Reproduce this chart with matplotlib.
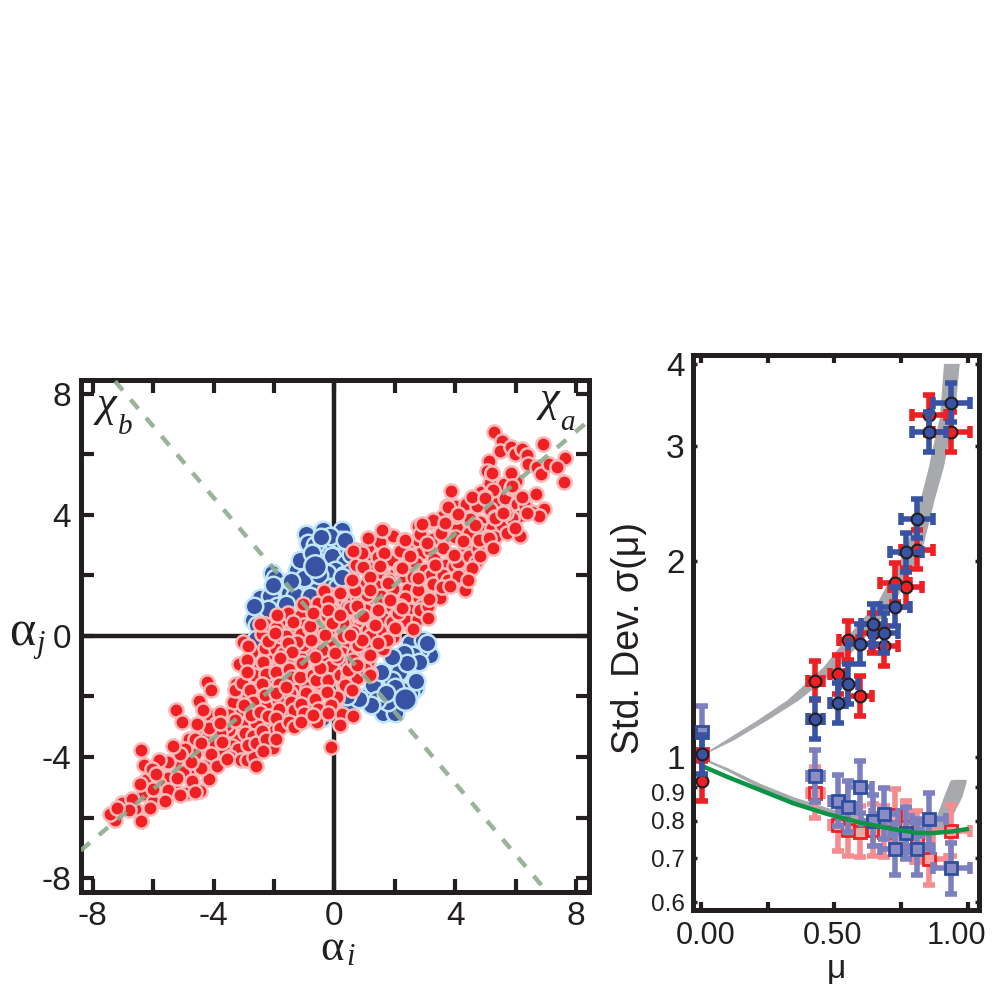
import matplotlib
matplotlib.use('Agg')
import matplotlib.pyplot as plt
from matplotlib.transforms import ScaledTranslation

plt.rcParams['font.family'] = ['Liberation Sans', 'DejaVu Sans']
plt.rcParams['axes.unicode_minus'] = False

# left panel: values, grouped by region
red_upper_tail = [(5.28,6.74),(5.54,6.42),(5.47,6.12),(5.85,6.25),(5.99,5.99),(6.19,6.17),(6.36,5.96),(6.90,6.34),
    (7.62,5.88),(7.59,5.09),(6.42,5.68),(6.70,5.59),(6.84,5.34),(7.10,5.68),(7.37,5.59),(5.11,5.79),(5.05,5.45),
    (5.22,5.37),(5.83,5.37),(3.85,4.77),(5.26,4.82),(5.85,4.88),(4.99,4.57),(6.19,4.60),(6.68,4.68),(4.71,4.28),
    (3.74,4.28),(4.54,4.60),(4.48,3.85),(6.93,4.20),(6.53,4.10),(6.76,3.97),(5.88,3.89),(5.68,4.05),(5.31,3.91),
    (4.65,3.66),(5.05,3.25),(4.77,3.17),(5.22,2.94),(6.13,3.31),(5.96,3.55),(4.03,3.97),(3.51,3.40),(2.77,3.63),
    (2.83,3.36),(3.06,3.06),(3.97,2.68),(3.34,2.34),(4.08,1.97),(3.55,1.60),(2.81,1.54),(3.14,1.23),(3.11,0.60),
    (2.60,0.24),(2.23,0.92),(5.20,5.39),(5.87,4.94),(4.98,4.56),(3.77,4.26),(4.10,4.01),(5.32,3.90),(2.33,3.18),
    (2.50,2.65),(5.10,3.23),(4.54,2.24),(2.22,2.24),(2.78,1.52),(4.32,1.52),(4.82,2.63),(5.26,2.90),(3.83,1.63),
    (4.43,1.85),(2.78,1.91),(3.27,3.84),(3.66,3.73),(4.27,3.12),(6.37,4.06),(5.59,4.06),(2.89,3.68)]
red_upper_fill = [(3.2,3.75),(3.25,3.2),(3.15,2.85),(3.3,2.55),(3.2,2.0),(3.25,1.7),(3.1,1.0),
    (3.6,3.95),(3.65,3.2),(3.6,2.9),(3.7,2.35),(3.6,2.0),(3.75,1.85),(3.5,1.25),
    (4.0,4.3),(4.05,3.55),(4.0,3.25),(3.95,2.3),(4.1,2.45),(4.0,1.7),
    (4.35,4.35),(4.45,3.4),(4.35,2.95),(4.45,2.65),(4.3,2.0),
    (4.85,4.75),(4.8,3.75),(4.9,3.45),(4.75,2.9),(4.7,2.45),
    (5.15,5.05),(5.3,4.45),(5.15,4.2),(5.2,3.55),(5.3,3.25),
    (5.6,5.0),(5.65,4.55),(5.55,3.65),(5.7,3.4),(6.0,5.1),(6.05,4.35),(6.1,3.95),(6.3,4.3)]
red_middle = [(1.60,3.51),(1.12,3.23),(1.63,2.74),(2.49,2.66),(2.18,2.81),(2.31,3.15),(0.72,2.83),(0.95,2.26),
    (1.17,1.94),(2.20,2.23),(1.80,1.84),(-0.36,1.49),(0.18,1.43),(-1.05,1.06),(-1.90,0.70),(-2.47,0.38),(-2.21,-0.17),
    (0.38,0.43),(1.31,0.38),(2.03,0.26),(1.74,-0.14),(0.78,-0.31),(-1.36,0.47),(-0.81,0.25),(-1.03,-0.30),(-0.76,-0.13),
    (-1.69,-0.57),(-0.42,-0.46),(-0.15,0.53),(-0.26,0.75),(-1.25,-0.19),(-0.81,0.31),(-1.97,0.09),(-1.53,-0.24),
    (-1.42,-0.52),(-0.26,0.64),(-0.20,0.14),(0.13,0.58),(0.51,0.92),(0.76,1.30),(1.07,1.36),(1.78,1.74),(1.29,0.42),
    (1.73,-0.13),(1.18,-0.63),(0.46,-1.13),(0.07,-0.69),(-0.48,-1.07),(-0.65,-0.69),(1.18,-0.02),(0.29,-0.02),
    (0.85,0.64),(1.45,0.86),(2.11,0.75),(0.68,1.52),(-0.20,1.14),(-0.70,0.75),(-1.09,-0.91),(-1.80,-0.74),(0.62,-0.80),
    (1.18,-1.29),(1.58,3.51),(2.34,3.16),(3.05,3.05),(2.83,3.40),(3.55,3.40),(0.90,2.74),(2.17,2.79),(0.62,2.79),
    (2.98,2.18),(2.17,2.24),(0.57,1.85),(3.49,1.58),(1.18,1.52),(3.16,1.25),(2.17,0.97),(1.84,1.19),(2.83,0.86),
    (2.61,0.22),(2.00,0.25),(1.34,0.36),(0.29,0.42),(0.73,0.97),(-0.20,0.86),(-0.09,0.42),(0.62,0.14),(0.90,-0.13),
    (-0.31,0.03),(1.51,2.30),(2.61,1.96),(0.18,0.70),(0.96,0.64),(1.45,-0.24),(0.51,0.03),(0.02,-0.57),(0.73,-0.96),
    (0.35,-1.62),(0.57,-1.79)]
red_middle_fill = [(-2.85,-0.35),(-2.9,-0.8),(-2.65,-1.3),(-2.9,-1.2),(-2.8,-1.8),(-2.7,-2.2),(-3.0,-2.3),(-2.75,-2.6),
    (-2.95,-3.2),(-2.7,-3.3),(-2.85,-3.6),(-2.6,-3.55),(-2.4,0.05),(-2.3,0.4),(-2.3,-0.4),(-2.35,-0.85),(-2.25,-1.25),
    (-2.4,-1.6),(-2.3,-1.95),(-2.45,-2.5),(-2.2,-2.65),(-2.4,-3.15),(-2.25,-3.4),(-2.35,-3.8),
    (-1.85,0.45),(-1.95,0.25),(-1.85,-0.2),(-1.95,-0.45),(-1.85,-0.95),(-1.95,-1.2),(-1.85,-1.6),(-1.95,-1.9),
    (-1.85,-2.4),(-1.95,-2.7),(-1.8,-3.05),(-1.95,-3.4),(-1.55,0.75),(-1.45,0.2),(-1.6,0.0),(-1.4,-0.35),(-1.55,-0.7),
    (-1.5,-1.1),(-1.4,-1.35),(-1.6,-1.7),(-1.45,-2.2),(-1.35,-2.45),(-1.5,-2.85),(-1.35,-3.0),
    (-1.1,0.7),(-1.0,0.35),(-1.1,0.05),(-0.95,-0.55),(-1.15,-0.7),(-1.0,-1.2),(-1.15,-1.35),(-0.95,-1.9),(-1.1,-2.25),
    (-1.0,-2.55),(-1.1,-2.85),(-0.55,1.1),(-0.65,0.55),(-0.5,0.1),(-0.6,-0.25),(-0.55,-0.85),(-0.7,-1.3),(-0.6,-1.45),
    (-0.65,-2.1),(-0.55,-2.4),(-0.7,-2.6),(-0.1,1.35),(-0.15,0.95),(0.0,0.25),(-0.15,-0.25),(-0.25,-0.8),(-0.1,-1.0),
    (-0.2,-1.45),(-0.25,-1.85),(-0.1,-2.3),(-0.2,-2.55),(0.3,1.2),(0.4,0.95),(0.25,0.2),(0.4,-0.2),(0.25,-0.55),
    (0.35,-0.85),(0.2,-1.3),(0.45,-1.35),(0.7,2.35),(0.65,1.75),(0.75,1.55),(0.6,1.15),(0.7,0.45),(0.65,-0.55),
    (0.75,-0.3),(0.6,-1.1),(0.75,-1.4),(1.1,2.95),(1.05,2.55),(1.15,2.25),(1.05,1.7),(1.15,1.15),(1.05,0.85),(1.1,0.2),
    (1.0,-0.4),(1.1,-0.85),(1.0,-1.1),(1.5,3.1),(1.45,2.6),(1.55,2.05),(1.4,1.65),(1.55,1.3),(1.5,1.05),(1.6,0.6),
    (1.5,0.15),(1.6,-0.45),(1.95,3.3),(1.9,2.5),(2.0,2.05),(1.95,1.55),(1.9,0.95),(2.05,0.7),(1.9,0.45),(1.95,-0.05),
    (2.4,2.95),(2.45,2.4),(2.35,1.95),(2.45,1.55),(2.35,1.25),(2.5,0.85),(2.4,0.5),(2.75,3.15),(2.85,2.75),(2.7,2.4),
    (2.9,2.15),(2.8,1.25),(2.75,0.55),(2.9,1.0)]
red_lower = [(-3.01,-0.19),(-2.19,-0.59),(-2.76,-0.59),(-3.16,-0.93),(-2.44,-1.05),(-2.13,-1.39),(-3.04,-1.56),
    (-3.27,-1.60),(-1.24,-1.58),(-1.56,-1.88),(-2.25,-2.25),(-1.65,-2.51),(-2.57,-2.85),(-2.02,-3.71),(-2.65,-4.01),
    (-2.59,-4.30),(-3.56,-4.07),(-3.73,-3.52),(0.09,-2.05),(0.26,-2.59),(0.60,-2.65),(0.17,-2.96),(-0.11,-3.67),
    (0.58,-1.79),(0.32,-1.58),(0.0,-1.24),(-0.51,-1.08),(1.17,-1.22),(-0.59,-2.84),(-3.79,-2.56),(-1.31,-2.67),
    (-3.02,-2.95),(-3.29,-2.78),(-2.85,-2.01),(-0.70,-1.79),(-0.87,-2.34),(-1.86,-2.12),(-1.36,-0.80),(-2.52,-1.79),
    (-3.79,-2.89),(-2.30,-2.95),(-1.97,-3.11),(-3.29,-1.79),(-1.64,-2.51),(-1.25,-1.62),(-1.69,-1.46),(-1.47,-1.90),
    (-0.92,-1.68),(0.29,-1.62),(0.07,-2.01),(-0.53,-1.57),(-1.03,-2.07),(-2.03,-1.35),(-2.72,-0.52),(-2.47,-1.04),
    (-3.07,-1.55),(-2.58,-2.87)]
red_lower_tail = [(-4.21,-1.51),(-4.07,-1.79),(-4.47,-2.16),(-5.23,-2.45),(-5.04,-2.84),(-4.07,-2.65),(-3.92,-2.90),
    (-4.49,-3.10),(-4.81,-3.41),(-6.39,-3.76),(-6.29,-4.26),(-5.63,-4.15),(-5.25,-4.13),(-4.64,-4.41),(-4.16,-4.22),
    (-4.16,-4.73),(-4.44,-5.12),(-4.87,-5.19),(-5.32,-5.04),(-6.24,-4.75),(-6.29,-5.23),(-5.72,-5.46),(-7.04,-5.52),
    (-6.60,-5.72),(-7.26,-6.07),(-6.39,-6.13),(-7.43,-5.90),(-4.30,-3.70),(-4.60,-3.90),(-5.00,-4.50),(-5.50,-4.70),
    (-5.80,-4.90),(-6.00,-5.50),(-6.70,-5.40),(-4.20,-3.30),(-3.30,-3.40),(-3.00,-3.80),(-3.20,-2.50),(-3.50,-3.10),
    (-3.35,-2.2),(-3.5,-2.6),(-3.6,-2.95),(-3.4,-3.65),(-3.2,-3.75),(-3.65,-3.8),(-3.45,-4.0),(-3.1,-4.1),(-2.9,-4.1),
    (-3.8,-3.2),(-3.95,-3.55),(-4.15,-3.05),(-4.35,-2.45),(-4.55,-2.9),(-4.6,-3.4),(-4.4,-3.55),(-4.1,-3.9),(-3.9,-4.3),
    (-4.4,-4.35),(-4.75,-4.15),(-4.95,-3.75),(-5.1,-3.9),(-5.35,-3.65),(-5.5,-4.15),(-5.8,-4.1),(-6.05,-4.4),(-5.9,-4.55),
    (-5.5,-5.1),(-5.2,-4.7),(-4.7,-4.8),(-4.6,-5.15),(-5.1,-5.25),(-5.6,-5.45),(-6.0,-5.05),(-6.45,-4.9),(-6.1,-5.7),
    (-6.8,-5.75),(-7.2,-5.7)]

blue_upper = [(-0.94,3.38),(-0.37,3.51),(0.24,3.51),(-0.87,3.07),(-0.26,3.07),(0.07,2.74),(-0.53,2.79),(-1.25,2.18),
    (-0.37,2.41),(-2.08,2.07),(-1.97,1.91),(-1.64,1.63),(-1.75,1.19),(-2.47,1.25),(-0.92,1.52),(-0.31,1.80),(-2.41,0.86),
    (-2.52,0.75),(-0.09,2.63),(0.40,2.90),(0.18,3.18),(-0.81,2.52),(-2.13,1.30),(-2.02,1.69),(-0.64,3.01),(-0.15,3.29),
    (-2.69,0.53),(0.35,2.41),(0.02,2.18),(-0.26,2.07),(-0.59,1.52),(-1.25,1.74),(-2.40,0.20),(-2.30,-0.30),(-2.20,-0.60),
    (-1.14,2.52),(-1.5,1.4),(-1.9,1.0),(-1.3,1.35),(-1.0,1.9),(-0.5,2.0),(0.3,2.0),(0.55,2.1),(0.55,2.7),(0.35,3.15),
    (-0.45,3.25),(-0.75,2.75),(-2.2,0.9),(-2.55,0.35),(-2.65,1.0),(-2.6,-0.1),(-1.6,1.05),(-0.8,1.3),(-0.1,1.6),(0.1,1.6),
    (0.25,1.95),(-1.45,1.8)]
blue_lower = [(3.16,-0.63),(2.83,-0.46),(2.50,-0.24),(2.94,-0.13),(2.61,-0.63),(2.13,-1.18),(1.89,-1.46),(0.96,-2.01),
    (2.67,-1.73),(2.50,-1.90),(1.62,-2.56),(2.00,-2.56),(1.29,-1.62),(0.51,-2.34),(-0.09,-2.34),(1.78,-2.17),(2.23,-1.79),
    (1.40,-2.12),(-3.10,-1.90),(-1.00,-2.75),(-0.40,-2.70),(3.05,-0.25),(2.3,-0.55),(2.8,-0.85),(2.4,-0.9),(1.9,-0.7),
    (2.0,-1.7),(1.55,-1.2),(1.2,-2.3),(0.8,-2.1),(0.4,-2.0),(1.7,-1.9),(2.7,-1.5)]
blue_large = [(-0.64,2.30),(2.34,-2.07)]

# dashed principal axes, ends read at the frame
axis_a_x = [-8.4, 8.41]
axis_a_y = [-7.09, 7.10]
axis_b_x = [-7.26, 6.99]
axis_b_y = [8.41, -8.40]

left_ticks = [-8, -6, -4, -2, 0, 2, 4, 6, 8]
left_labels = ['-8', '', '-4', '', '0', '', '4', '', '8']

# right panel: sigma(mu), all four series share the same mu values
mu_points = [0.004, 0.428, 0.513, 0.553, 0.597, 0.644, 0.687, 0.728, 0.769, 0.809, 0.854, 0.939]
mu_err = [0.0, 0.028, 0.03, 0.035, 0.045, 0.045, 0.05, 0.055, 0.06, 0.06, 0.063, 0.07]
sd_red_circle = [0.92, 1.31, 1.34, 1.51, 1.24, 1.55, 1.48, 1.85, 1.82, 2.08, 3.34, 3.15]
sd_blue_circle = [1.01, 1.145, 1.21, 1.295, 1.49, 1.60, 1.55, 1.70, 2.06, 2.32, 3.15, 3.49]
sd_red_square = [1.01, 0.883, 0.788, 0.774, 0.769, 0.774, 0.769, 0.816, 0.783, 0.756, 0.699, 0.772]
sd_blue_square = [1.094, 0.936, 0.858, 0.84, 0.90, 0.80, 0.82, 0.724, 0.765, 0.724, 0.804, 0.676]
circle_rel_err = 0.072
square_rel_err = 0.095

band_up_sd = [1.01, 1.063, 1.14, 1.224, 1.283, 1.377, 1.55, 1.74, 2.08, 2.48, 2.79, 2.955, 3.32, 4.01]
band_up_left = [0.004, 0.091, 0.210, 0.322, 0.378, 0.459, 0.559, 0.665, 0.765, 0.821, 0.853, 0.865, 0.894, 0.909]
band_up_right = [0.010, 0.122, 0.247, 0.366, 0.428, 0.516, 0.628, 0.728, 0.828, 0.874, 0.909, 0.921, 0.949, 0.968]
band_low_mu = [0.004, 0.097, 0.222, 0.347, 0.472, 0.597, 0.722, 0.846, 0.884, 0.909, 0.934, 0.946, 0.978, 0.994]
band_low_top = [1.0, 0.965, 0.912, 0.870, 0.838, 0.811, 0.792, 0.790, 0.816, 0.870, 0.923, 0.925, 0.925, 0.925]
band_low_bot = [0.993, 0.954, 0.897, 0.852, 0.819, 0.792, 0.774, 0.769, 0.769, 0.769, 0.783, 0.821, 0.870, 0.918]

green_mu = [0.004, 0.097, 0.222, 0.347, 0.472, 0.597, 0.722, 0.809, 0.859, 0.934, 0.996]
green_sd = [0.97, 0.934, 0.891, 0.850, 0.819, 0.794, 0.776, 0.766, 0.765, 0.769, 0.776]

right_xticks = [0.0, 0.25, 0.5, 0.75, 1.0]
right_xlabels = ['0.00', '', '0.50', '', '1.00']
right_yticks = [0.6, 0.7, 0.8, 0.9, 1, 2, 3, 4]
right_ylabels = ['0.6', '0.7', '0.8', '0.9', '1', '2', '3', '4']

dark = '#231f20'

fig = plt.figure(figsize=(10, 10), dpi=100)

ax = fig.add_axes([0.0806, 0.1083, 0.508, 0.5117])
ax.set_xlim(-8.4, 8.41)
ax.set_ylim(-8.45, 8.45)
ax.axhline(0, color=dark, lw=3.2, zorder=1)
ax.axvline(0, color=dark, lw=3.2, zorder=1)

blue = blue_upper + blue_lower
ax.scatter([p[0] for p in blue], [p[1] for p in blue], s=159, c='#3953a4', edgecolors='#bfe6f8', linewidths=1.8, zorder=2)
ax.scatter([p[0] for p in blue_large], [p[1] for p in blue_large], s=262, c='#3953a4', edgecolors='#bfe6f8', linewidths=1.8, zorder=2)
red = red_lower_tail + red_lower + red_middle_fill + red_middle + red_upper_fill + red_upper_tail
ax.scatter([p[0] for p in red], [p[1] for p in red], s=105, c='#ee2024', edgecolors='#f9b9b9', linewidths=1.8, zorder=3)

for xs, ys in [(axis_a_x, axis_a_y), (axis_b_x, axis_b_y)]:
    ax.plot(xs, ys, color='#8fab90', lw=3.2, dashes=(2.7, 2.7), alpha=0.9, zorder=4)

ax.set_xticks(left_ticks)
ax.set_xticklabels(left_labels)
ax.set_yticks(left_ticks)
ax.set_yticklabels(left_labels)
ax.tick_params(direction='in', length=9.5, width=3, top=True, right=True, color=dark, labelcolor=dark, labelsize=24, pad=7)
for s in ax.spines.values():
    s.set_linewidth(3.6)
    s.set_color(dark)

ax.text(-7.86, 7.25, 'χ', family='Liberation Serif', style='italic', fontsize=32, color=dark, ha='left', va='baseline')
ax.text(-7.17, 6.66, 'b', family='Liberation Serif', style='italic', fontsize=21, color=dark, ha='left', va='baseline')
ax.text(6.8, 7.42, 'χ', family='Liberation Serif', style='italic', fontsize=32, color=dark, ha='left', va='baseline')
ax.text(7.47, 6.79, 'a', family='Liberation Serif', style='italic', fontsize=21, color=dark, ha='left', va='baseline')

fig.text(0.332, 0.040, 'α', family='Liberation Serif', fontsize=32, color=dark, ha='center', va='baseline')
fig.text(0.346, 0.035, 'i', family='Liberation Serif', style='italic', fontsize=22, color=dark, ha='left', va='baseline')
fig.text(0.022, 0.355, 'α', family='Liberation Serif', fontsize=36, color=dark, ha='center', va='baseline')
fig.text(0.036, 0.348, 'j', family='Liberation Serif', style='italic', fontsize=22, color=dark, ha='left', va='baseline')

ax2 = fig.add_axes([0.693, 0.09, 0.286, 0.555])
ax2.set_yscale('log')
ax2.set_xlim(-0.029, 1.042)
ax2.set_ylim(0.5835, 4.13)

ax2.fill_betweenx(band_up_sd, band_up_left, band_up_right, color='#a7a9ac', lw=0, zorder=1)
ax2.fill_between(band_low_mu, band_low_bot, band_low_top, color='#a7a9ac', lw=0, zorder=1)


def bars(y, rel, color, zorder):
    low = [v - v / (1 + rel) for v in y]
    high = [v * rel for v in y]
    # the mu = 0 points carry no horizontal bar
    ax2.errorbar(mu_points[1:], y[1:], xerr=mu_err[1:], fmt='none', ecolor=color, elinewidth=4,
                 capsize=4, capthick=4, zorder=zorder)
    ax2.errorbar(mu_points, y, yerr=[low, high], fmt='none', ecolor=color, elinewidth=4,
                 capsize=4, capthick=4, zorder=zorder)


bars(sd_red_square, square_rel_err, '#f58d90', 2)
ax2.plot(mu_points, sd_red_square, ls='none', marker='s', ms=9, mfc='#f8a5a5', mec='#ee2024', mew=2, zorder=2.1)
bars(sd_blue_square, square_rel_err, '#7c80bf', 3)
ax2.plot(mu_points, sd_blue_square, ls='none', marker='s', ms=9, mfc='#8a8cc4', mec='#2f4ea0', mew=2, zorder=3.1)
ax2.plot(green_mu, green_sd, color='#0b9444', lw=3.2, zorder=3.5)
bars(sd_red_circle, circle_rel_err, '#ee2024', 4)
ax2.plot(mu_points, sd_red_circle, ls='none', marker='o', ms=8.5, mfc='#ee2024', mec=dark, mew=1.5, zorder=4.1)
bars(sd_blue_circle, circle_rel_err, '#3953a4', 5)
ax2.plot(mu_points, sd_blue_circle, ls='none', marker='o', ms=8.5, mfc='#3953a4', mec=dark, mew=1.5, zorder=5.1)

ax2.set_xticks(right_xticks)
ax2.set_xticklabels(right_xlabels)
ax2.minorticks_off()
ax2.set_yticks(right_yticks)
ax2.set_yticklabels(right_ylabels)
ax2.tick_params(axis='x', direction='in', length=6, width=3, top=True, color=dark, labelcolor=dark, labelsize=22, pad=8)
ax2.tick_params(axis='y', direction='in', length=3, width=2.5, right=True, color=dark, labelcolor=dark, labelsize=24, pad=6)
for lab, val in zip(ax2.get_yticklabels(), right_yticks):
    if val < 1:
        lab.set_fontsize(17.5)
    if val == 0.9:
        # sits a little below its tick in the original
        lab.set_transform(lab.get_transform() + ScaledTranslation(0, -0.05, fig.dpi_scale_trans))
for lab, shift in zip(ax2.get_xticklabels(), [0.05, 0, -0.02, 0, -0.11]):
    lab.set_transform(lab.get_transform() + ScaledTranslation(shift, 0, fig.dpi_scale_trans))
for s in ax2.spines.values():
    s.set_linewidth(3.6)
    s.set_color(dark)

ax2.set_xlabel('μ', fontsize=24, color=dark, labelpad=2)
fig.text(0.629, 0.362, 'Std. Dev. σ(μ)', fontsize=27, color=dark, rotation=90, ha='center', va='center')

fig.savefig('out.png', dpi=100)
